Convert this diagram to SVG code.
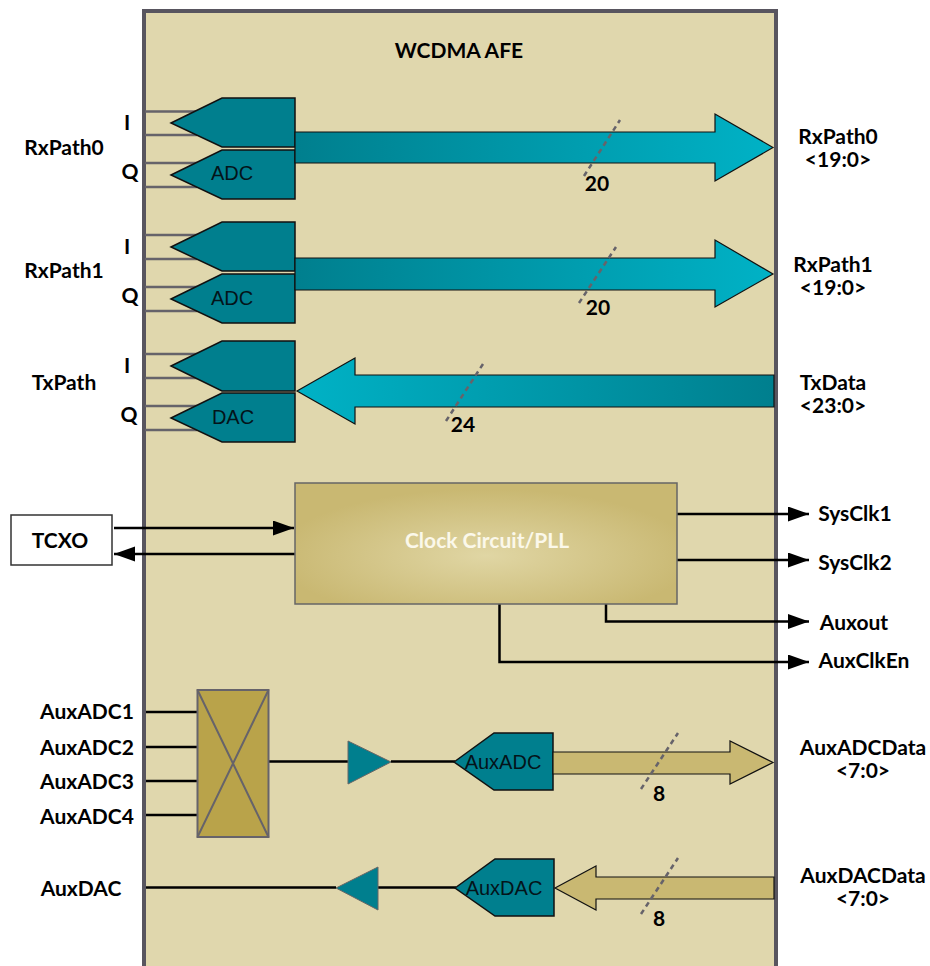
<svg xmlns="http://www.w3.org/2000/svg" width="930" height="966" viewBox="0 0 930 966">
<style>
text{font-family:"Lato","Liberation Sans",sans-serif;font-weight:700;font-size:21px;fill:#000;text-anchor:middle}
.arial{font-family:"Liberation Sans",Arial,sans-serif;font-weight:400;font-size:20px;fill:#04141a}
.conv{fill:#007f8e;stroke:#111;stroke-width:1.5}
.pin{stroke:#66636a;stroke-width:2.5;fill:none}
.wire{stroke:#000;stroke-width:2.5;fill:none}
.tick{stroke:#66636a;stroke-width:2.5;stroke-dasharray:5 4;fill:none}
.aux{fill:#c9b872;stroke:#111;stroke-width:1.2}
.tri{fill:#007f8e;stroke:#666;stroke-width:1}
</style>
<defs>
<linearGradient id="tealR" x1="0" x2="1" y1="0" y2="0"><stop offset="0" stop-color="#007f8e"/><stop offset="1" stop-color="#00b2c6"/></linearGradient>
<linearGradient id="tealL" x1="1" x2="0" y1="0" y2="0"><stop offset="0" stop-color="#007f8e"/><stop offset="1" stop-color="#00b2c6"/></linearGradient>
<radialGradient id="clk" cx="0.5" cy="0.6" r="0.55"><stop offset="0" stop-color="#e0d6a4"/><stop offset="1" stop-color="#c9b872"/></radialGradient>
<marker id="ah" markerUnits="userSpaceOnUse" markerWidth="22" markerHeight="16" refX="21" refY="7.5" orient="auto"><path d="M0 0L21 7.5L0 15z" fill="#000"/></marker>
</defs>

<g id="afe">
<path d="M144 966V11H776V966" fill="#e0d7ad" stroke="#58555f" stroke-width="4"/>
<text x="459" y="58">WCDMA AFE</text>
</g>

<g id="connectors">
<path class="pin" d="M145 111.500H197M145 135H197M145 163H197M145 187H197M145 235H197M145 259H197M145 287H197M145 311H197M145 354H197M145 378H197M145 406H197M145 430H197"/>
<path class="wire" d="M114 528H294" marker-end="url(#ah)"/>
<path class="wire" d="M295 554H114" marker-end="url(#ah)"/>
<path class="wire" d="M677 514H809" marker-end="url(#ah)"/>
<path class="wire" d="M677 560H809" marker-end="url(#ah)"/>
<path class="wire" d="M606 604V621.500H809" marker-end="url(#ah)"/>
<path class="wire" d="M499.500 604V662H809" marker-end="url(#ah)"/>
<path class="wire" d="M146 712H197M146 747H197M146 781H197M146 815H197"/>
<path class="wire" d="M269 761.500H349M391 761.500H455"/>
<path class="wire" d="M146 887.500H336M378 887.500H456"/>
</g>

<g id="rx0-i"><path class="conv" d="M171 123L222 98H295V147H222z"/></g>
<g id="rx0-q"><path class="conv" d="M171 175L222 150H295V199H222z"/><text class="arial" x="232" y="180">ADC</text></g>
<g id="rx1-i"><path class="conv" d="M171 247L222 222H295V271H222z"/></g>
<g id="rx1-q"><path class="conv" d="M171 299L222 274H295V323H222z"/><text class="arial" x="232" y="305">ADC</text></g>
<g id="tx-i"><path class="conv" d="M171 366L222 341H295V391H222z"/></g>
<g id="tx-q"><path class="conv" d="M171 418L222 393H295V442H222z"/><text class="arial" x="233" y="424">DAC</text></g>

<g id="rx0-bus">
<path d="M295 132H715V114L773 147.500L715 181V163H295z" fill="url(#tealR)" stroke="#111" stroke-width="1.200"/>
<path class="tick" d="M584 176L620 120"/>
<text x="597" y="191">20</text>
</g>
<g id="rx1-bus">
<path d="M295 258H715V240L773 274L715 307V290H295z" fill="url(#tealR)" stroke="#111" stroke-width="1.200"/>
<path class="tick" d="M579 303L616 247"/>
<text x="598" y="315">20</text>
</g>
<g id="tx-bus">
<path d="M297 391L355 358V375H774V407H355V424z" fill="url(#tealL)" stroke="#111" stroke-width="1.200"/>
<path class="tick" d="M446 421L483 364"/>
<text x="463" y="432">24</text>
</g>

<g id="clock">
<rect x="295" y="483" width="382" height="121" fill="url(#clk)" stroke="#666" stroke-width="1.500"/>
<text x="487" y="548" style="fill:#fbf8ea">Clock Circuit/PLL</text>
</g>
<g id="tcxo">
<rect x="11" y="515" width="101" height="50" fill="#fff" stroke="#333" stroke-width="1.500"/>
<text x="60" y="548">TCXO</text>
</g>

<g id="mux">
<rect x="197.500" y="690" width="71" height="147" fill="#b9a34a" stroke="#66636a" stroke-width="2"/>
<path d="M197.500 690L268.500 837M268.500 690L197.500 837" stroke="#66636a" stroke-width="2" fill="none"/>
</g>
<g id="adc-amp"><path class="tri" d="M348 741V784L391 762z"/></g>
<g id="dac-amp"><path class="tri" d="M378 867V910L336 888z"/></g>
<g id="auxadc"><path class="conv" d="M454 762L494 733H553V790H494z"/><text class="arial" x="503" y="769">AuxADC</text></g>
<g id="auxdac"><path class="conv" d="M455 888L495 859H554V916H495z"/><text class="arial" x="504" y="895">AuxDAC</text></g>

<g id="auxadc-bus">
<path class="aux" d="M553 752H730V741L773 762.500L730 784V774H553z"/>
<path class="tick" d="M641 789L678 733"/>
<text x="659" y="801">8</text>
</g>
<g id="auxdac-bus">
<path class="aux" d="M555 888L596 866V877H774V899H596V910z"/>
<path class="tick" d="M641 914L678 858"/>
<text x="659" y="926">8</text>
</g>

<g id="labels">
<text x="64" y="155">RxPath0</text>
<text x="64" y="278">RxPath1</text>
<text x="64" y="390">TxPath</text>
<text x="127" y="130">I</text><text x="130" y="179">Q</text>
<text x="127" y="254">I</text><text x="130" y="303">Q</text>
<text x="127" y="373">I</text><text x="129" y="422">Q</text>
<text x="838" y="144">RxPath0</text><text x="838" y="167">&lt;19:0&gt;</text>
<text x="833" y="272">RxPath1</text><text x="833" y="295">&lt;19:0&gt;</text>
<text x="833" y="390">TxData</text><text x="833" y="413">&lt;23:0&gt;</text>
<text x="855" y="521">SysClk1</text>
<text x="855" y="570">SysClk2</text>
<text x="854" y="630">Auxout</text>
<text x="864" y="668">AuxClkEn</text>
<text x="87" y="719">AuxADC1</text>
<text x="87" y="755">AuxADC2</text>
<text x="87" y="789">AuxADC3</text>
<text x="87" y="824">AuxADC4</text>
<text x="81" y="896">AuxDAC</text>
<text x="863" y="755">AuxADCData</text><text x="863" y="778">&lt;7:0&gt;</text>
<text x="863" y="883">AuxDACData</text><text x="863" y="906">&lt;7:0&gt;</text>
</g>
</svg>
